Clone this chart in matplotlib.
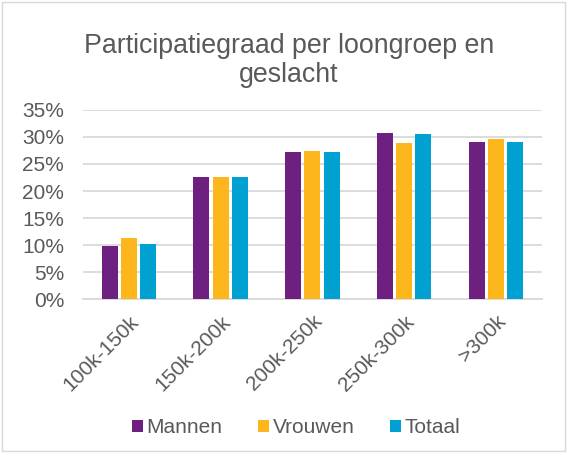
import numpy as np
import matplotlib
matplotlib.use('Agg')
import matplotlib.pyplot as plt
from matplotlib.patches import Rectangle

categories = ['100k-150k', '150k-200k', '200k-250k', '250k-300k', '>300k']
mannen = [9.9, 22.5, 27.2, 30.7, 29.1]
vrouwen = [11.3, 22.6, 27.4, 28.9, 29.6]
totaal = [10.2, 22.6, 27.2, 30.5, 29.1]
series_names = ['Mannen', 'Vrouwen', 'Totaal']
colors = ['#6E2081', '#FDB71C', '#00A0D2']

plt.rcParams['font.family'] = ['Liberation Sans', 'DejaVu Sans']
text_color = '#595959'

fig = plt.figure(figsize=(5.68, 4.54), dpi=100)
ax = fig.add_axes([0.146, 0.341, 0.808, 0.417])

x = np.arange(len(categories))
w = 0.175
step = 0.21
for i, (vals, name, c) in enumerate(zip([mannen, vrouwen, totaal], series_names, colors)):
    ax.bar(x + (i - 1) * step, vals, width=w, color=c, label=name, zorder=3)

ax.set_xlim(-0.5, len(categories) - 0.5)
ax.set_ylim(0, 35)
ax.set_yticks(range(0, 36, 5))
ax.set_yticklabels([f'{v}%' for v in range(0, 36, 5)])
ax.yaxis.grid(True, color='#D9D9D9', linewidth=1.3, zorder=0)
for s in ['top', 'right', 'left']:
    ax.spines[s].set_visible(False)
ax.spines['bottom'].set_color('#D9D9D9')
ax.spines['bottom'].set_linewidth(1.3)
ax.tick_params(axis='both', length=0, labelsize=15, colors=text_color)
ax.tick_params(axis='y', pad=13.5)
ax.tick_params(axis='x', pad=9)
ax.set_xticks(x)
ax.set_xticklabels(categories, rotation=45, ha='right', rotation_mode='anchor')

fig.text(0.509, 0.867, 'Participatiegraad per loongroep en\ngeslacht', ha='center', va='center',
         fontsize=19.3, color=text_color, linespacing=1.12)

fig.legend(loc='center', bbox_to_anchor=(0.521, 0.058), ncol=3, frameon=False,
           fontsize=15, labelcolor=text_color, handlelength=0.55, handleheight=0.55,
           handletextpad=0.15, columnspacing=1.7)

fig.patches.append(Rectangle((0.004, 0.006), 0.99, 0.99, transform=fig.transFigure,
                             fill=False, edgecolor='#D9D9D9', linewidth=1))

fig.savefig('out.png', dpi=100)
